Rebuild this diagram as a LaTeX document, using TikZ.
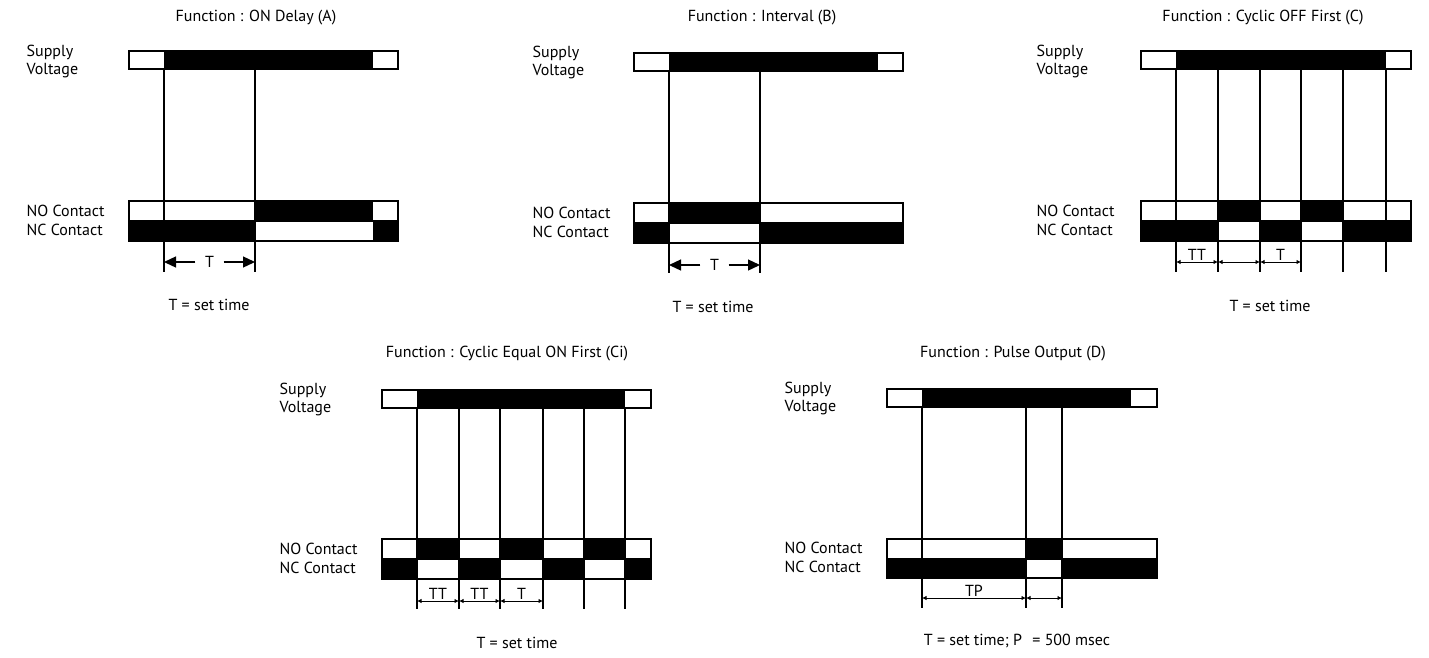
\documentclass[tikz,border=0pt]{standalone}
\usepackage{fontspec}
\setmainfont{PT Sans}
\usetikzlibrary{arrows.meta,calc}
\begin{document}
\begin{tikzpicture}[x=1pt,y=-1pt,line width=1.3pt,
  txt/.style={inner sep=0pt,font=\fontsize{16}{16}\selectfont},
  lbl/.style={txt,anchor=west},
  ttl/.style={txt},
  bigT/.style={txt,inner xsep=9pt},
  bigarr/.style={line width=1.3pt,-{Stealth[length=12pt,width=11pt,inset=0pt]}},
  smarr/.style={line width=1pt,{Latex[length=4.5pt,width=4.5pt]}-{Latex[length=4.5pt,width=4.5pt]}},
  dimlbl/.style={txt,above=1pt}]
\useasboundingbox (0,0) rectangle (1429,657);

% ---------------- Panel A ----------------
\node[ttl] (tA) at (256,18) {Function : ON Delay (A)};
\node[lbl] (sA1) at (26,52) {Supply};
\node[lbl] (sA2) at (26,71) {Voltage};
\node[lbl] (nA1) at (26,211) {NO Contact};
\node[lbl] (nA2) at (26,230) {NC Contact};
\fill (164,51) rectangle (373,69);
\draw (129,51) rectangle (398,69);
\fill (255,201) rectangle (373,221);
\fill (129,221) rectangle (255,241);
\fill (373,221) rectangle (398,241);
\draw (129,201) rectangle (398,241);
\draw (129,221) -- (398,221);
\foreach \x in {164,255} \draw (\x,69) -- (\x,272);
\coordinate (aL) at (164,262); \coordinate (aR) at (255,262);
\node[bigT] (aT) at ($(aL)!0.5!(aR)$) {T};
\draw[bigarr] (aT) -- (aL);
\draw[bigarr] (aT) -- (aR);
\node[txt] (eA) at (209,305) {T = set time};

% ---------------- Panel B ----------------
\node[ttl] (tB) at (762,18) {Function : Interval (B)};
\node[lbl] (sB1) at (532,53) {Supply};
\node[lbl] (sB2) at (532,72) {Voltage};
\node[lbl] (nB1) at (532,213) {NO Contact};
\node[lbl] (nB2) at (532,232) {NC Contact};
\fill (669,53) rectangle (878,71);
\draw (634,53) rectangle (903,71);
\fill (669,203) rectangle (760,223);
\fill (634,223) rectangle (669,243);
\fill (760,223) rectangle (903,243);
\draw (634,203) rectangle (903,243);
\draw (634,223) -- (903,223);
\foreach \x in {669,760} \draw (\x,71) -- (\x,273);
\coordinate (bL) at (669,265); \coordinate (bR) at (760,265);
\node[bigT] (bT) at ($(bL)!0.5!(bR)$) {T};
\draw[bigarr] (bT) -- (bL);
\draw[bigarr] (bT) -- (bR);
\node[txt] (eB) at (713,307) {T = set time};

% ---------------- Panel C ----------------
\node[ttl] (tC) at (1263,18) {Function : Cyclic OFF First (C)};
\node[lbl] (sC1) at (1036,52) {Supply};
\node[lbl] (sC2) at (1036,71) {Voltage};
\node[lbl] (nC1) at (1036,211) {NO Contact};
\node[lbl] (nC2) at (1036,230) {NC Contact};
\fill (1176,51) rectangle (1386,69);
\draw (1141,51) rectangle (1411,69);
\fill (1218,201) rectangle (1260,221);
\fill (1301,201) rectangle (1343,221);
\fill (1141,221) rectangle (1218,241);
\fill (1260,221) rectangle (1301,241);
\fill (1343,221) rectangle (1411,241);
\draw (1141,201) rectangle (1411,241);
\draw (1141,221) -- (1411,221);
\foreach \x in {1176,1218,1260,1301,1343,1386} \draw (\x,69) -- (\x,272);
\coordinate (c1) at (1176,262); \coordinate (c2) at (1218,262);
\coordinate (c3) at (1260,262); \coordinate (c4) at (1301,262);
\draw[smarr] (c1) -- node[dimlbl] (cTT) {TT} (c2);
\draw[smarr] (c2) -- (c3);
\draw[smarr] (c3) -- node[dimlbl] (cT) {T} (c4);
\node[txt] (eC) at (1270,306) {T = set time};

% ---------------- Panel Ci ----------------
\node[ttl] (tCi) at (507,354) {Function : Cyclic Equal ON First (Ci)};
\node[lbl] (sCi1) at (279,390) {Supply};
\node[lbl] (sCi2) at (279,409) {Voltage};
\node[lbl] (nCi1) at (279,549) {NO Contact};
\node[lbl] (nCi2) at (279,568) {NC Contact};
\fill (417,390) rectangle (625,408);
\draw (382,390) rectangle (651,408);
\fill (417,539) rectangle (459,559);
\fill (500,539) rectangle (543,559);
\fill (584,539) rectangle (625,559);
\fill (382,559) rectangle (417,579);
\fill (459,559) rectangle (500,579);
\fill (543,559) rectangle (584,579);
\fill (625,559) rectangle (651,579);
\draw (382,539) rectangle (651,579);
\draw (382,559) -- (651,559);
\foreach \x in {417,459,500,543,584,625} \draw (\x,408) -- (\x,609);
\coordinate (i1) at (417,601); \coordinate (i2) at (459,601);
\coordinate (i3) at (500,601); \coordinate (i4) at (543,601);
\draw[smarr] (i1) -- node[dimlbl] (iTT1) {TT} (i2);
\draw[smarr] (i2) -- node[dimlbl] (iTT2) {TT} (i3);
\draw[smarr] (i3) -- node[dimlbl] (iT) {T} (i4);
\node[txt] (eCi) at (517,643) {T = set time};

% ---------------- Panel D ----------------
\node[ttl] (tD) at (1013,354) {Function : Pulse Output (D)};
\node[lbl] (sD1) at (784,389) {Supply};
\node[lbl] (sD2) at (784,408) {Voltage};
\node[lbl] (nD1) at (784,548) {NO Contact};
\node[lbl] (nD2) at (784,567) {NC Contact};
\fill (922,389) rectangle (1131,407);
\draw (887,389) rectangle (1157,407);
\fill (1026,539) rectangle (1062,559);
\fill (887,559) rectangle (1026,578);
\fill (1062,559) rectangle (1157,578);
\draw (887,539) rectangle (1157,578);
\draw (887,559) -- (1157,559);
\foreach \x in {922,1026,1062} \draw (\x,407) -- (\x,608);
\coordinate (d1) at (922,598); \coordinate (d2) at (1026,598);
\coordinate (d3) at (1062,598);
\draw[smarr] (d1) -- node[dimlbl] (dTP) {TP} (d2);
\draw[smarr] (d2) -- (d3);
\node[txt] (eD) at (1017,641) {T = set time; P\hspace{6pt} = 500 msec};
\end{tikzpicture}
\end{document}
